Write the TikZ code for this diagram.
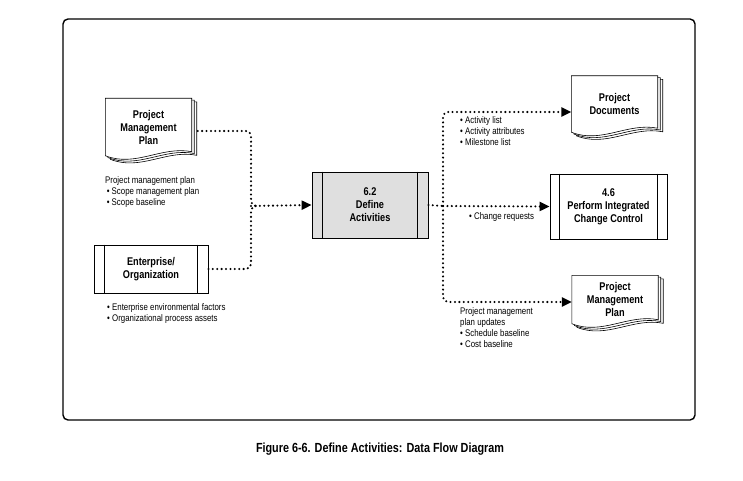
\documentclass[tikz,border=0pt]{standalone}
\usepackage{fontspec}
\setmainfont{Liberation Sans}[FakeStretch=0.82]
\usepackage{tikz}
\usetikzlibrary{arrows.meta,backgrounds}

% stacked document outline behind a named node
\newcommand{\docstack}[1]{%
  \begin{scope}[on background layer]
    \foreach \dx/\dy in {5/3.6,2.5/1.8,0/0}{%
      \draw[fill=white, line width=0.6pt]
        ([xshift=\dx pt,yshift=-\dy pt]#1.south west)
        -- ([xshift=\dx pt,yshift=-\dy pt]#1.north west)
        -- ([xshift=\dx pt,yshift=-\dy pt]#1.north east)
        -- ([xshift=\dx pt,yshift={-\dy pt+4pt}]#1.south east)
        .. controls +(-30,-6) and +(30,12) ..
        ([xshift=\dx pt,yshift=-\dy pt]#1.south west) -- cycle;
    }
  \end{scope}}

% inner bars of a process box
\newcommand{\sidebars}[2]{%
  \draw[line width=0.8pt] ([xshift=#2]#1.north west) -- ([xshift=#2]#1.south west)
    ([xshift=-#2]#1.north east) -- ([xshift=-#2]#1.south east);}

\tikzset{
  docnode/.style={align=center, font={\bfseries\fontsize{11.2}{13}\selectfont}, minimum width=86pt, minimum height=57pt, inner sep=0pt},
  procbox/.style={draw, line width=0.8pt, fill=white, align=center, font={\bfseries\fontsize{11.2}{13}\selectfont}, minimum width=115pt, minimum height=66pt, inner sep=0pt},
  flow/.style={line width=2.3pt, dash pattern=on 0pt off 4.4pt, line cap=round, rounded corners=5pt},
  flowarrow/.style={flow, -{Triangle[length=10pt,width=9pt]}},
  note/.style={align=left, font={\fontsize{9.6}{11}\selectfont}, inner sep=0pt, anchor=north west},
  frame/.style={draw, line width=1.4pt, rounded corners=5pt, minimum width=632pt, minimum height=401pt},
}

\begin{document}
\begin{tikzpicture}[x=1pt, y=-1pt]
    \useasboundingbox (0,0) rectangle (743,481);

    % outer frame
    \node[frame] (frame) at (379,219.5) {};

    % Inputs
    \node[docnode] (pmpin) at (148.5,127) {Project\\Management\\Plan};
    \docstack{pmpin}
    \node[note] (pmpinnote) at (105,176) {Project management plan\\
        \,\textbullet\ Scope management plan\\
        \,\textbullet\ Scope baseline};

    \node[procbox, minimum width=114pt, minimum height=48pt] (ent) at (151,269) {Enterprise/\\Organization};
    \sidebars{ent}{11pt}
    \node[note] (entnote) at (107,303) {\textbullet\ Enterprise environmental factors\\
        \textbullet\ Organizational process assets};

    % Process
    \node[procbox, fill=gray!25, minimum width=116pt] (define) at (370,205) {6.2\\Define\\Activities};
    \sidebars{define}{11pt}

    % Outputs
    \node[docnode, minimum height=56pt] (docs) at (614.5,104) {Project\\Documents};
    \docstack{docs}
    \node[note] (docsnote) at (460,116) {\textbullet\ Activity list\\
        \textbullet\ Activity attributes\\
        \textbullet\ Milestone list};

    \node[procbox, minimum width=117pt, minimum height=65pt] (ccb) at (608.5,206.5) {4.6\\Perform Integrated\\Change Control};
    \sidebars{ccb}{10pt}
    \node[note] (crnote) at (469,212) {\textbullet\ Change requests};

    \node[docnode, minimum height=48pt] (pmpout) at (615,299.5) {Project\\Management\\Plan};
    \docstack{pmpout}
    \node[note] (pmpoutnote) at (460,307) {Project management\\
        plan updates\\
        \textbullet\ Schedule baseline\\
        \textbullet\ Cost baseline};

    % data flows
    \coordinate (merge) at (251,206);
    \coordinate (split) at (443,206);
    \draw[flow] ([xshift=6pt,yshift=-4pt]pmpin.east) -| (merge) -- +(8,0);
    \draw[flow] (ent.east) -| (merge) -- +(8,0);
    \draw[flowarrow] (merge) -- (define.west);
    \draw[flow] (define.east) -- (split);
    \draw[flowarrow] (split) |- ([yshift=-8pt]docs.west);
    \draw[flowarrow] (split) -- (ccb.west);
    \draw[flowarrow] (split) |- ([yshift=-2.5pt]pmpout.west);

    % caption
    \node[font={\bfseries\fontsize{13.2}{15}\selectfont}] (caption) at (380,449) {Figure 6-6. Define Activities: Data Flow Diagram};
\end{tikzpicture}
\end{document}
